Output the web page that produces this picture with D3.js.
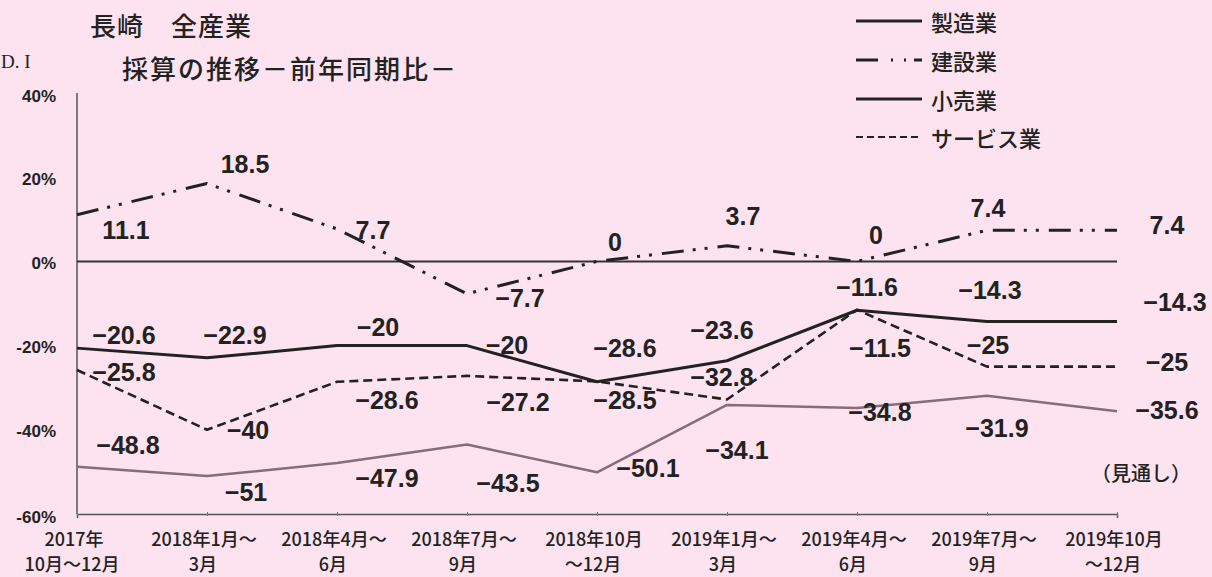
<!DOCTYPE html>
<html>
<head>
<meta charset="utf-8">
<script src="https://cdn.jsdelivr.net/npm/d3@7"></script>
<style>
  html, body { margin: 0; padding: 0; background: #fce3ef; overflow: hidden; }
  svg { display: block; }
  text { fill: #222; }
</style>
</head>
<body>
<svg id="chart" width="1212" height="577"></svg>
<script>
// categories (two-line labels)
const periods = [
    ['2017年', '10月～12月'],
    ['2018年1月～', '3月'],
    ['2018年4月～', '6月'],
    ['2018年7月～', '9月'],
    ['2018年10月', '～12月'],
    ['2019年1月～', '3月'],
    ['2019年4月～', '6月'],
    ['2019年7月～', '9月'],
    ['2019年10月', '～12月']
];
const yTicks = [40, 20, 0, -20, -40, -60];

// D.I 値
const seizo    = [-20.6, -22.9, -20, -20, -28.6, -23.6, -11.6, -14.3, -14.3];
const kensetsu = [11.1, 18.5, 7.7, -7.7, 0, 3.7, 0, 7.4, 7.4];
const kouri    = [-48.8, -51, -47.9, -43.5, -50.1, -34.1, -34.8, -31.9, -35.6];
const service  = [-25.8, -40, -28.6, -27.2, -28.5, -32.8, -11.5, -25, -25];

const seriesNames = ['製造業', '建設業', '小売業', 'サービス業'];

// 線の見た目
const styles = [
    {color: '#222', width: 3, dash: null, legendDash: null},
    {color: '#222', width: 3, dash: '22,9,3,9,3,10', legendDash: '22,13,2,11,2,8,8'},
    {color: '#8a6b7a', width: 2.5, dash: null, legendDash: null},
    {color: '#222', width: 2.6, dash: '9,5', legendDash: '7,4'}
];

// 数値ラベルのずらし量 [dx, dy]
const nudges = [
    [[47,-13],[28,-23],[41,-19],[40,-1],[28,-34],[-5,-31],[10,-23],[3,-32],[58,-20]],
    [[49,15],[38,-20],[36,1],[53,4],[18,-19],[16,-30],[19,-26],[1,-22],[50,-5]],
    [[51,-22],[39,16],[50,15],[41,38],[51,-4],[10,45],[23,4],[10,32],[50,-1]],
    [[47,2],[41,0],[50,18],[51,26],[28,19],[-5,-22],[23,38],[1,-22],[50,-5]]
];

const allValues = [seizo, kensetsu, kouri, service];

const svg = d3.select('#chart');
const jp = '"Noto Sans CJK JP", "Noto Sans", sans-serif';
const num = '"Liberation Sans", Arial, sans-serif';

const x = d3.scalePoint()
    .domain(d3.range(periods.length))
    .range([77, 1117]);
const y = d3.scaleLinear()
    .domain([-60, 40])
    .range([514, 93]);

// 軸
svg.append('line')
    .attr('x1', 77).attr('x2', 77)
    .attr('y1', y(40)).attr('y2', y(-60))
    .attr('stroke', '#555').attr('stroke-width', 1.5);

const xAxis = svg.append('g')
    .attr('transform', `translate(0,${y(-60)})`)
    .call(d3.axisBottom(x).tickSize(4).tickFormat(''));
xAxis.select('.domain').attr('stroke', '#555').attr('stroke-width', 1.5);
xAxis.selectAll('.tick line').attr('stroke', '#777').attr('transform', 'translate(0,-2)');

svg.append('line')
    .attr('x1', x(0)).attr('x2', x(periods.length - 1))
    .attr('y1', y(0)).attr('y2', y(0))
    .attr('stroke', '#333').attr('stroke-width', 2);

// y ラベル
svg.append('g').selectAll('text')
    .data(yTicks)
    .enter()
    .append('text')
    .attr('x', 56)
    .attr('y', d => y(d) + (d === 40 ? 3 : d === -60 ? 3 : 2))
    .attr('text-anchor', 'end')
    .attr('dominant-baseline', 'central')
    .attr('font-family', num)
    .attr('font-weight', 'bold')
    .attr('font-size', 17)
    .text(d => d + '%');

// x ラベル
const xl = svg.append('g').selectAll('text')
    .data(periods)
    .enter()
    .append('text')
    .attr('text-anchor', 'middle')
    .attr('font-family', jp)
    .attr('font-weight', 500)
    .attr('font-size', 18);
xl.append('tspan')
    .attr('x', (d, i) => x(i) - 3)
    .attr('y', 546)
    .text(d => d[0]);
xl.append('tspan')
    .attr('x', (d, i) => x(i) - (i === 0 ? 5 : 4))
    .attr('y', 571)
    .text(d => d[1]);

// 折れ線
const line = d3.line()
    .x((d, i) => x(i))
    .y(d => y(d));

const order = [2, 3, 1, 0];
order.forEach(k => {
    const s = styles[k];
    svg.append('path')
        .datum(allValues[k])
        .attr('d', line)
        .attr('fill', 'none')
        .attr('stroke', s.color)
        .attr('stroke-width', s.width)
        .attr('stroke-dasharray', s.dash)
        .attr('stroke-linejoin', 'round');
});

// 数値ラベル
allValues.forEach((vals, k) => {
    svg.append('g').selectAll('text')
        .data(vals)
        .enter()
        .append('text')
        .attr('x', (d, i) => x(i) + nudges[k][i][0])
        .attr('y', (d, i) => y(d) + nudges[k][i][1])
        .attr('text-anchor', 'middle')
        .attr('dominant-baseline', 'central')
        .attr('font-family', num)
        .attr('font-weight', 'bold')
        .attr('font-size', 25)
        .text(d => d < 0 ? '−' + Math.abs(d) : d);
});

// タイトル
svg.append('text')
    .attr('x', 90).attr('y', 24)
    .attr('dominant-baseline', 'central')
    .attr('font-family', jp).attr('font-weight', 500).attr('font-size', 26)
    .attr('letter-spacing', 1)
    .text('長崎　全産業');
svg.append('text')
    .attr('x', 122).attr('y', 67)
    .attr('dominant-baseline', 'central')
    .attr('font-family', jp).attr('font-weight', 500).attr('font-size', 26)
    .attr('letter-spacing', 2)
    .text('採算の推移－前年同期比－');
svg.append('text')
    .attr('x', 1).attr('y', 61)
    .attr('dominant-baseline', 'central')
    .attr('font-family', '"Liberation Serif", serif').attr('font-size', 19)
    .text('D. I');
svg.append('text')
    .attr('x', 1191).attr('y', 472)
    .attr('text-anchor', 'end')
    .attr('dominant-baseline', 'central')
    .attr('font-family', jp).attr('font-weight', 500).attr('font-size', 20)
    .text('（見通し）');

// 凡例
const legend = svg.append('g');
seriesNames.forEach((name, k) => {
    const s = styles[k];
    const ly = [21, 60, 99, 137][k];
    legend.append('line')
        .attr('x1', 856).attr('x2', 922)
        .attr('y1', ly).attr('y2', ly)
        .attr('stroke', '#222')
        .attr('stroke-width', k === 3 ? 2 : 2.8)
        .attr('stroke-dasharray', s.legendDash);
    legend.append('text')
        .attr('x', 931).attr('y', ly)
        .attr('dominant-baseline', 'central')
        .attr('font-family', jp).attr('font-weight', 500).attr('font-size', 22)
        .text(name);
});
</script>
</body>
</html>
